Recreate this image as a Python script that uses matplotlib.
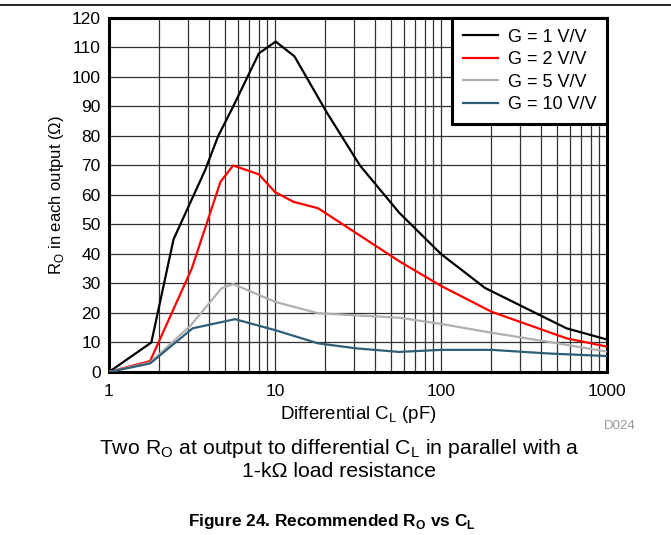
import matplotlib

matplotlib.use('Agg')
import matplotlib.pyplot as plt
from matplotlib.lines import Line2D
from matplotlib.ticker import LogLocator, FixedLocator, NullFormatter

plt.rcParams['font.family'] = ['Liberation Sans', 'DejaVu Sans']
plt.rcParams['mathtext.fontset'] = 'custom'
plt.rcParams['mathtext.rm'] = 'Liberation Sans'
plt.rcParams['mathtext.bf'] = 'Liberation Sans:bold'

# values
g1_x = [1, 1.8, 2.45, 3.8, 4.55, 5.6, 8.0, 10.1, 13.1, 20.5, 32.5, 56, 100, 184, 413, 571, 1000]
g1_y = [0, 10, 45, 68.5, 80, 90, 108, 112, 107, 88, 70, 54, 40, 28.5, 18.7, 14.8, 11]
g2_x = [1, 1.77, 3.15, 4.7, 5.6, 8.0, 10, 12.9, 18.2, 31, 56.6, 100, 202, 571, 1000]
g2_y = [0, 3.7, 35, 64.5, 70, 67, 61, 57.7, 55.5, 47, 37.4, 29.2, 20.4, 11.4, 8.6]
g5_x = [1, 1.77, 3.12, 4.77, 5.6, 10, 18.2, 56, 100, 202, 435, 1000]
g5_y = [0, 3.2, 15.9, 28.4, 29.8, 23.8, 19.9, 18.4, 16.3, 13.3, 10.3, 6.9]
g10_x = [1, 1.77, 3.19, 5.74, 10, 18.2, 31, 56, 100, 202, 435, 1000]
g10_y = [0, 2.9, 14.8, 17.9, 14.2, 9.7, 8, 6.8, 7.5, 7.5, 6.3, 5.4]

series = [
    (g1_x, g1_y, 'black', 'G = 1 V/V'),
    (g2_x, g2_y, '#ff0000', 'G = 2 V/V'),
    (g5_x, g5_y, '#b0b0b0', 'G = 5 V/V'),
    (g10_x, g10_y, '#2e5f77', 'G = 10 V/V'),
]

fig = plt.figure(figsize=(6.71, 5.35), dpi=100)
ax = fig.add_axes([0.1624, 0.3047, 0.7422, 0.6617])

for xs, ys, color, label in series:
    ax.plot(xs, ys, color=color, lw=1.6, label=label, zorder=3)

ax.set_xscale('log')
ax.set_xlim(1, 1000)
ax.set_ylim(0, 120)
ax.yaxis.set_major_locator(FixedLocator(range(0, 121, 10)))
ax.xaxis.set_minor_locator(LogLocator(base=10, subs=range(2, 10)))
ax.xaxis.set_minor_formatter(NullFormatter())
ax.set_xticks([1, 10, 100, 1000])
ax.set_xticklabels(['1', '10', '100', '1000'])
ax.grid(True, which='both', color='#303030', lw=0.9)
ax.tick_params(which='both', length=0, labelsize=12.5)
ax.tick_params(axis='x', pad=9)
ax.tick_params(axis='y', pad=6)
for sp in ax.spines.values():
    sp.set_linewidth(2.2)

ax.set_xlabel('Differential C$_\\mathrm{L}$ (pF)', fontsize=13.5, labelpad=3)
ax.set_ylabel('R$_\\mathrm{O}$ in each output (\u03a9)', fontsize=12, labelpad=4)

leg = ax.legend(loc='upper right', fontsize=13, fancybox=False, framealpha=1,
                edgecolor='black', borderaxespad=0, handlelength=1.9,
                labelspacing=0.3, borderpad=0.6, handletextpad=0.55)
leg.get_frame().set_linewidth(2.2)

fig.text(0.924, 0.198, 'D024', fontsize=9.5, color='#999999', ha='center')
fig.text(0.506, 0.152, 'Two R$_\\mathrm{O}$ at output to differential C$_\\mathrm{L}$ in parallel with a',
         fontsize=15.3, ha='center')
fig.text(0.506, 0.109, '1-k\u03a9 load resistance', fontsize=15.3, ha='center')
fig.text(0.494, 0.016, 'Figure 24. Recommended R$_\\mathbf{O}$ vs C$_\\mathbf{L}$',
         fontsize=12.4, ha='center', fontweight='bold')

fig.add_artist(Line2D([0, 1], [0.9907, 0.9907], color='black', lw=1.2,
                      transform=fig.transFigure))

fig.savefig('out.png', dpi=100)
